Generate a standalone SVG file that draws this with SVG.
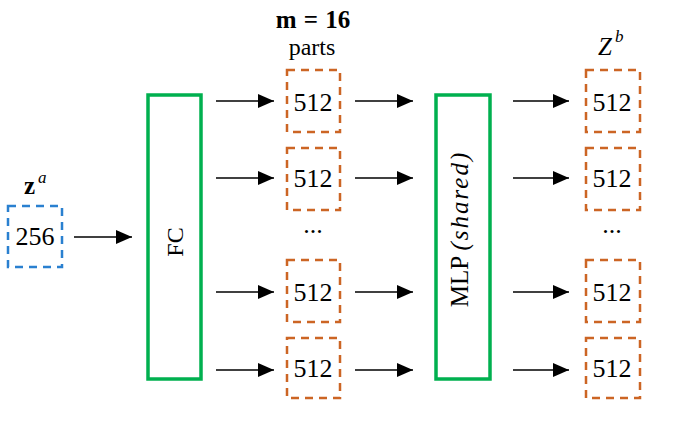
<svg xmlns="http://www.w3.org/2000/svg" width="674" height="423" viewBox="0 0 674 423">
<defs>
<marker id="ah" markerUnits="userSpaceOnUse" markerWidth="18" markerHeight="14" refX="16" refY="7" orient="auto">
<path d="M0,0 L16,7 L0,14 Z" fill="#000"/>
</marker>
<style>
.ls{font-family:'Liberation Serif',serif;fill:#000}
.num{font-size:26px;text-anchor:middle}
.part{fill:none;stroke:#cc6524;stroke-width:2.5;stroke-dasharray:8 6}
.inp{fill:none;stroke:#2a80d0;stroke-width:2.5;stroke-dasharray:8 6}
.blk{fill:none;stroke:#00b04f;stroke-width:3.5}
.arr{stroke:#000;stroke-width:1.6;fill:none;marker-end:url(#ah)}
.dots{font-size:26px;text-anchor:middle}
</style>
</defs>
<rect width="674" height="423" fill="#fff"/>

<g id="za">
<text class="ls" x="24" y="194" font-size="25" font-weight="bold">z</text>
<text class="ls" x="38" y="183" font-size="17" font-style="italic">a</text>
<rect class="inp" x="8" y="206" width="54" height="61"/>
<text class="ls num" x="35" y="245">256</text>
</g>

<g id="fc">
<rect class="blk" x="148" y="95" width="53" height="284"/>
<text class="ls" x="0" y="0" font-size="24" text-anchor="middle" transform="translate(183,242) rotate(-90)">FC</text>
</g>

<g id="header">
<text class="ls" x="313" y="28" font-size="25" font-weight="bold" text-anchor="middle" word-spacing="1">m = 16</text>
<text class="ls" x="312" y="55" font-size="24" text-anchor="middle">parts</text>
</g>

<g id="p1"><rect class="part" x="287" y="70" width="53" height="62"/><text class="ls num" x="313" y="111">512</text></g>
<g id="p2"><rect class="part" x="287" y="148" width="53" height="62"/><text class="ls num" x="313" y="187">512</text></g>
<text class="ls dots" x="313" y="233">...</text>
<g id="p3"><rect class="part" x="287" y="260" width="53" height="62"/><text class="ls num" x="313" y="301">512</text></g>
<g id="p4"><rect class="part" x="287" y="338" width="53" height="60"/><text class="ls num" x="313" y="377">512</text></g>

<g id="mlp">
<rect class="blk" x="436" y="95" width="54" height="284"/>
<text class="ls" x="0" y="0" font-size="25" text-anchor="middle" transform="translate(468,229) rotate(-90)">MLP <tspan font-style="italic" letter-spacing="2">(shared)</tspan></text>
</g>

<g id="zb">
<text class="ls" x="598" y="55" font-size="25" font-style="italic">Z</text>
<text class="ls" x="615" y="42" font-size="17" font-style="italic">b</text>
</g>

<g id="q1"><rect class="part" x="586" y="70" width="54" height="62"/><text class="ls num" x="612" y="111">512</text></g>
<g id="q2"><rect class="part" x="586" y="148" width="54" height="62"/><text class="ls num" x="612" y="187">512</text></g>
<text class="ls dots" x="612" y="233">...</text>
<g id="q3"><rect class="part" x="586" y="260" width="54" height="62"/><text class="ls num" x="612" y="301">512</text></g>
<g id="q4"><rect class="part" x="586" y="338" width="54" height="60"/><text class="ls num" x="612" y="377">512</text></g>

<g id="connectors">
<line class="arr" x1="74" y1="237" x2="132" y2="237"/>
<line class="arr" x1="216" y1="101" x2="274" y2="101"/>
<line class="arr" x1="216" y1="178" x2="274" y2="178"/>
<line class="arr" x1="216" y1="292" x2="274" y2="292"/>
<line class="arr" x1="216" y1="370" x2="274" y2="370"/>
<line class="arr" x1="355" y1="101" x2="413" y2="101"/>
<line class="arr" x1="355" y1="178" x2="413" y2="178"/>
<line class="arr" x1="355" y1="292" x2="413" y2="292"/>
<line class="arr" x1="355" y1="370" x2="413" y2="370"/>
<line class="arr" x1="513" y1="101" x2="569" y2="101"/>
<line class="arr" x1="513" y1="178" x2="569" y2="178"/>
<line class="arr" x1="513" y1="292" x2="569" y2="292"/>
<line class="arr" x1="513" y1="370" x2="569" y2="370"/>
</g>
</svg>
